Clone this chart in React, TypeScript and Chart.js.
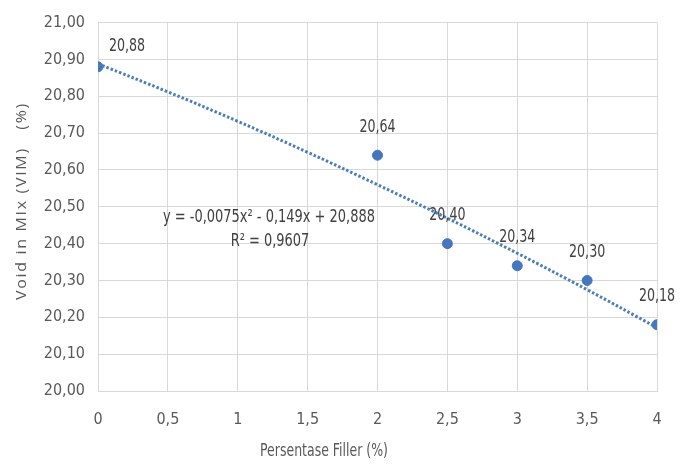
import React, { useEffect, useRef } from "react";
import { Chart, registerables } from "chart.js";

Chart.register(...registerables);

const fillerPct = [0, 2, 2.5, 3, 3.5, 4];
const vimValues = [20.88, 20.64, 20.4, 20.34, 20.3, 20.18];
const trendX = [0, 0.5, 1, 1.5, 2, 2.5, 3, 3.5, 4];
const trendY = [20.888, 20.812, 20.732, 20.648, 20.56, 20.469, 20.374, 20.275, 20.172];
const equationLines = ["y = -0,0075x² - 0,149x + 20,888", "R² = 0,9607"];
const xTitle = "Persentase Filler (%)";
const yTitle = "Void in MIx (VIM)   (%)";

const NARROW = "'DejaVu Sans Condensed', 'Liberation Sans Narrow', sans-serif";
const fmt = (v: number, d: number) => v.toFixed(d).replace(".", ",");
const fmtX = (v: number) => {
  const r = Math.round(v * 10) / 10;
  return Number.isInteger(r) ? String(r) : fmt(r, 1);
};

function narrowText(ctx: CanvasRenderingContext2D, text: string, x: number, y: number, sx: number) {
  ctx.save();
  ctx.translate(x, y);
  ctx.scale(sx, 1);
  ctx.fillText(text, 0, 0);
  ctx.restore();
}

const labelPlugin = {
  id: "labels",
  afterDatasetsDraw(chart: any) {
    const ctx = chart.ctx;
    const meta = chart.getDatasetMeta(1);
    ctx.save();
    ctx.font = `18px ${NARROW}`;
    ctx.fillStyle = "#404040";
    ctx.textAlign = "center";
    ctx.textBaseline = "middle";
    meta.data.forEach((pt: any, i: number) => {
      const dx = i === 0 ? 29 : 0;
      const dy = i === 0 ? -20 : -28;
      narrowText(ctx, fmt(vimValues[i], 2), pt.x + dx, pt.y + dy, 0.78);
    });
    // equation
    ctx.font = `17px ${NARROW}`;
    const w = ctx.measureText(equationLines[0]).width;
    const sx = 212 / w;
    narrowText(ctx, equationLines[0], 269, 218, sx);
    narrowText(ctx, equationLines[1], 270, 242, sx);
    // axis titles
    ctx.fillStyle = "#595959";
    ctx.font = `17px ${NARROW}`;
    const wx = ctx.measureText(xTitle).width;
    narrowText(ctx, xTitle, 324, 452, 128 / wx);
    ctx.translate(22, 201);
    ctx.rotate(-Math.PI / 2);
    ctx.font = `15px 'Open Sans', sans-serif`;
    (ctx as any).letterSpacing = "1.6px";
    const wy = ctx.measureText(yTitle).width;
    ctx.scale(198 / wy, 1);
    ctx.fillText(yTitle, 0, 0);
    ctx.restore();
  },
};

export default function App() {
  const ref = useRef<HTMLCanvasElement>(null);
  useEffect(() => {
    const chart = new Chart(ref.current!, {
      type: "scatter",
      data: {
        datasets: [
          {
            type: "line",
            data: trendX.map((x, i) => ({ x, y: trendY[i] })),
            borderColor: "#4a7ebb",
            borderWidth: 3,
            borderDash: [2.5, 2],
            pointRadius: 0,
            fill: false,
            tension: 0.4,
          } as any,
          {
            data: fillerPct.map((x, i) => ({ x, y: vimValues[i] })),
            backgroundColor: "#4677be",
            borderColor: "#4677be",
            pointRadius: 5,
          },
        ],
      },
      plugins: [labelPlugin],
      options: {
        animation: false,
        responsive: false,
        layout: { padding: { left: 0, right: 34, top: 21, bottom: 0 } },
        plugins: { legend: { display: false }, tooltip: { enabled: false } },
        scales: {
          x: {
            type: "linear",
            min: 0,
            max: 4,
            ticks: {
              stepSize: 0.5,
              callback: (v: any) => fmtX(Number(v)),
              color: "#595959",
              font: { size: 16, family: NARROW },
              padding: 19,
            },
            grid: { color: "#d9d9d9", drawTicks: false },
            border: { color: "#d9d9d9" },
            afterFit: (s: any) => {
              s.height = 75;
            },
          },
          y: {
            min: 20,
            max: 21,
            ticks: {
              stepSize: 0.1,
              callback: (v: any) => fmt(Number(v), 2),
              color: "#595959",
              font: { size: 16, family: NARROW },
              padding: 13,
            },
            grid: { color: "#d9d9d9", drawTicks: false },
            border: { color: "#d9d9d9" },
            afterFit: (s: any) => {
              s.width = 98;
            },
          },
        },
      },
    });
    return () => chart.destroy();
  }, []);
  return (
    <div style={{ position: "absolute", left: 0, top: 0, width: 691, height: 466, background: "#fff" }}>
      <canvas ref={ref} width={691} height={466} />
    </div>
  );
}
